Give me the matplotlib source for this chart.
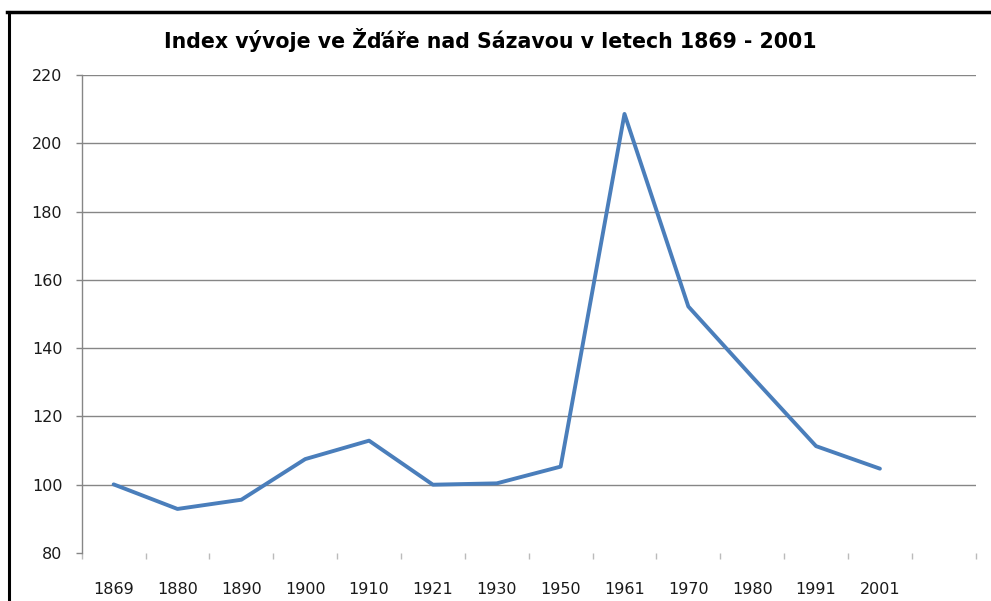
import numpy as np
import matplotlib.pyplot as plt
from matplotlib.lines import Line2D

years = ['1869', '1880', '1890', '1900', '1910', '1921', '1930',
         '1950', '1961', '1970', '1980', '1991', '2001']
index = [100.1, 92.9, 95.6, 107.5, 112.9, 100.0, 100.4,
         105.3, 208.6, 152.2, 131.6, 111.3, 104.7]
yticks = [80, 100, 120, 140, 160, 180, 200, 220]

W, H = 991, 601
fig = plt.figure(figsize=(W / 100, H / 100), dpi=100)
ax = fig.add_axes([81.7 / W, 1 - 553 / H, (975.7 - 81.7) / W, (553 - 75) / H])

grey = '#868686'
x = np.arange(len(years))
ax.plot(x, index, color='#4A7EBB', lw=2.8, solid_joinstyle='round', solid_capstyle='round')

ax.set_xlim(-0.5, 13.5)
ax.set_ylim(80, 220)
ax.set_yticks(yticks)
ax.set_yticklabels([str(v) for v in yticks])
ax.set_xticks(x)
ax.set_xticklabels(years)
ax.set_xticks(np.arange(-0.5, 14.0, 1.0), minor=True)

for t in yticks[1:]:
    ax.axhline(t, color=grey, lw=1.0, zorder=0)

for s in ['top', 'right', 'bottom']:
    ax.spines[s].set_visible(False)
ax.spines['left'].set_color(grey)
ax.spines['left'].set_linewidth(1.0)

ax.tick_params(axis='y', direction='out', length=4, width=1, color=grey, pad=10)
ax.tick_params(axis='x', which='major', length=0, pad=21)
ax.tick_params(axis='x', which='minor', direction='out', length=4, width=1, color='#BBBBBB')
for t in ax.get_xticklabels() + ax.get_yticklabels():
    t.set_fontfamily('DejaVu Sans')
    t.set_fontsize(11.5)
    t.set_color('#1a1a1a')

fig.text(490 / W, 1 - 40 / H, 'Index vývoje ve Žďáře nad Sázavou v letech 1869 - 2001',
         ha='center', va='center', fontfamily='DejaVu Sans', fontweight='bold',
         fontsize=14.8, color='black')

# black frame lines at top and left
fig.add_artist(Line2D([7 / W, 1.0], [1 - 11.5 / H, 1 - 11.5 / H], color='black', lw=2.5,
                      transform=fig.transFigure))
fig.add_artist(Line2D([8.5 / W, 8.5 / W], [0, 1 - 12 / H], color='black', lw=2.2,
                      transform=fig.transFigure))

fig.savefig('out.png', dpi=100)
